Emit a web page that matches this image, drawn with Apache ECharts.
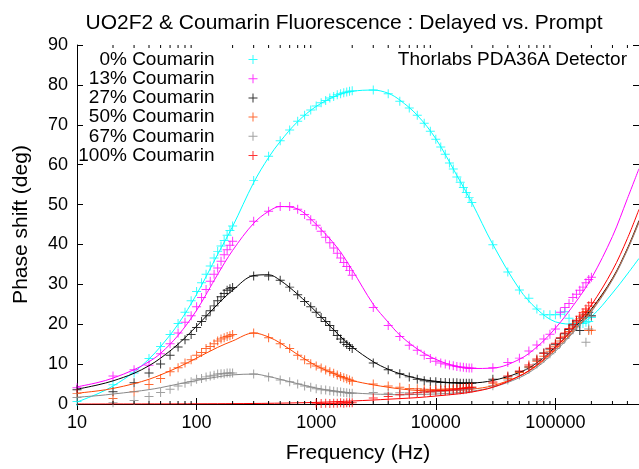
<!DOCTYPE html>
<html><head><meta charset="utf-8">
<script src="https://cdn.jsdelivr.net/npm/echarts@6/dist/echarts.min.js"></script>
<style>html,body{margin:0;padding:0;background:#fff}#c{width:639px;height:469px}</style>
</head><body><div id="c"></div>
<script>
// ---- measured frequencies (Hz) ----
const freq = [10,20,30,40,50,60,70,80,90,100,
  110,120,130,140,150,160,170,180,190,200,
  300,400,500,600,700,800,900,1000,
  1100,1200,1300,1400,1500,1600,1700,1800,1900,2000,
  3000,4000,5000,6000,7000,8000,9000,10000,
  11000,12000,13000,14000,15000,16000,17000,18000,19000,20000,
  30000,40000,50000,60000,70000,80000,90000,100000,
  110000,120000,130000,140000,150000,160000,170000,180000,190000,200000];

// ---- measured phase shift (deg) ----
const p0 = [0.6,4.8,7.8,11.4,14.4,17.4,20.2,23.0,25.9,28.2,
  30.4,32.5,34.6,36.6,38.2,39.6,41.0,42.3,43.5,44.6,
  56.0,62.1,66.0,68.7,70.9,72.4,73.7,74.7,
  75.5,76.1,76.7,77.1,77.5,77.8,78.0,78.2,78.4,78.5,
  78.7,77.8,75.9,74.2,72.4,70.4,68.4,66.4,
  64.4,62.6,60.4,58.9,56.9,55.6,54.3,53.0,51.8,50.5,
  39.9,33.1,28.6,26.5,23.8,22.4,22.4,22.4,
  22.5,23.1,21.5,20.2,20.0,20.2,20.2,20.5,20.7,21.7];
const p13 = [4.1,7.0,8.6,9.7,12.6,15.1,17.8,20.5,22.1,24.4,
  26.7,28.7,30.8,32.5,34.1,35.8,37.4,38.7,39.8,40.8,
  45.8,48.3,49.5,49.5,48.8,47.5,46.2,44.8,
  43.3,41.8,40.4,39.1,37.8,36.6,35.5,34.5,33.5,32.3,
  24.2,19.7,16.9,14.7,13.5,12.2,11.4,10.7,
  10.3,10.0,9.8,9.6,9.4,9.3,9.2,9.1,9.0,9.0,
  9.1,10.4,11.5,13.3,14.8,16.3,17.5,18.8,
  23.0,24.2,25.2,26.7,27.5,28.5,29.3,30.4,31.2,31.8];
const p27 = [3.6,3.1,5.3,7.8,10.0,12.2,14.3,16.1,17.4,19.2,
  20.7,22.1,23.4,24.6,25.9,26.9,27.7,28.5,28.9,29.2,
  32.1,32.1,31.0,29.3,27.4,25.7,24.4,23.0,
  21.7,20.7,19.7,18.4,17.2,16.3,15.5,14.9,14.4,13.9,
  10.3,8.6,7.6,6.8,6.2,5.8,5.6,5.6,
  5.4,5.4,5.3,5.3,5.3,5.2,5.2,5.2,5.2,5.2,
  6.2,6.8,8.1,9.3,11.0,12.8,13.8,15.0,
  16.5,17.6,18.7,19.8,20.8,18.4,21.6,22.4,23.0,22.1];
const p50 = [2.6,1.4,3.1,4.9,6.4,8.1,9.1,10.3,11.1,12.2,
  12.9,13.9,14.4,15.1,15.8,16.3,16.6,16.9,17.1,17.4,
  17.8,16.6,15.1,13.9,12.2,11.1,10.1,9.5,
  9.0,8.5,8.1,7.7,7.3,6.9,6.6,6.3,6.0,5.7,
  5.0,4.5,4.2,3.9,3.8,3.7,3.6,3.6,
  3.7,3.7,3.8,3.8,3.9,3.9,4.0,4.0,4.1,4.2,
  5.2,6.4,7.9,9.3,10.7,12.0,13.2,14.5,
  15.8,17.0,18.2,19.3,20.4,21.4,22.3,23.2,18.4,18.5];
const p67 = [1.6,0.3,0.9,1.9,2.9,3.7,4.5,5.2,5.6,6.2,
  6.4,6.8,7.0,7.2,7.5,7.6,7.6,7.8,7.8,7.8,
  7.5,6.8,6.0,5.6,5.0,4.5,4.2,3.8,
  3.6,3.5,3.3,3.2,3.1,3.0,2.9,2.8,2.7,2.7,
  2.9,2.7,2.8,2.8,2.9,3.0,3.0,3.1,
  3.2,3.3,3.3,3.4,3.5,3.5,3.6,3.7,3.8,3.9,
  4.6,6.0,7.3,8.7,10.0,11.4,12.6,13.9,
  15.2,16.4,17.6,18.7,19.7,20.8,21.7,15.5,18.8,22.0];
const p100 = [null,null,null,null,null,null,null,null,null,null,
  null,null,null,null,null,null,null,null,null,null,
  null,null,null,null,null,null,null,0.2,
  0.1,0.2,0.1,0.2,0.2,0.3,0.2,0.3,0.3,0.3,
  1.5,1.9,2.3,2.5,2.8,3.0,3.1,3.3,
  3.3,3.4,3.5,3.6,3.7,3.8,3.9,4.0,4.1,4.2,
  5.5,7.0,8.3,9.8,11.3,12.7,14.0,15.2,
  16.6,17.8,18.9,20.0,21.0,22.0,22.9,23.8,24.6,25.4];

// ---- fitted curves ----
const fitFreq = [10,15,20,30,40,50,70,100,150,200,300,400,500,700,1000,1500,2000,3000,4000,5000,7000,10000,15000,20000,30000,50000,70000,100000,150000,200000,300000,400000,500000];
const fit0 = [0.5,2.6,4.5,8.0,11.3,14.4,20.0,27.5,37.5,44.5,55.5,61.8,65.8,70.8,74.6,77.4,78.4,78.7,77.9,76.2,72.4,66.5,57.3,50.5,40.0,28.8,23.8,20.6,20.0,21.9,27.8,32.6,36.5];
const fit13 = [4.3,5.4,6.5,8.6,10.6,12.7,17.2,23.5,32.5,38.5,45.3,48.3,49.5,48.9,45.0,39.2,33.6,25.0,20.5,17.3,13.8,11.2,9.4,8.9,9.0,11.2,14.3,19.0,25.8,31.5,42.0,51.5,59.0];
const fit27 = [3.7,4.8,5.8,7.7,9.6,11.5,15.0,19.5,25.0,28.5,32.2,32.4,31.0,27.5,23.1,17.7,14.3,10.6,8.7,7.6,6.4,5.7,5.3,5.3,5.9,7.9,10.3,14.3,19.6,23.8,31.5,39.0,46.0];
const fit50 = [2.7,3.3,3.9,5.1,6.2,7.3,9.2,11.5,14.2,15.8,17.8,16.8,15.3,12.4,9.6,7.3,5.9,4.8,4.2,3.8,3.4,3.3,3.4,3.7,4.6,7.0,9.6,13.6,19.1,23.4,31.3,38.8,45.7];
const fit67 = [1.7,2.1,2.5,3.1,3.6,4.1,5.0,5.9,6.8,7.3,7.5,6.9,6.2,5.1,4.0,3.2,2.8,2.5,2.4,2.3,2.4,2.5,2.8,3.2,4.2,6.6,9.2,13.2,18.8,23.1,31.1,38.6,45.5];
const fit100 = [0,0,0.01,0.01,0.02,0.02,0.03,0.05,0.07,0.09,0.13,0.17,0.21,0.29,0.4,0.6,0.75,1.0,1.2,1.35,1.6,2.0,2.5,3.0,4.2,7.0,9.8,14.0,20.0,24.8,33.5,41.5,48.8];

const names = ['0% Coumarin','13% Coumarin','27% Coumarin','50% Coumarin','67% Coumarin','100% Coumarin'];
const yTicks = [0,10,20,30,40,50,60,70,80,90];
const xMajorTicks = [10,100,1000,10000,100000];
const xMinorTicks = [20,30,40,50,60,70,80,90,200,300,400,500,600,700,800,900,
  2000,3000,4000,5000,6000,7000,8000,9000,20000,30000,40000,50000,60000,70000,80000,90000,
  200000,300000,400000];

const colors = ['#00ffff','#ff00ff','#000000','#ff4500','#888888','#ff0000'];
const pts = [p0,p13,p27,p50,p67,p100];
const fits = [fit0,fit13,fit27,fit50,fit67,fit100];
const FONT = 'Liberation Sans, Arial, Helvetica, sans-serif';
const plus = 'path://M0,4.45H10V5.55H0Z M4.45,0H5.55V10H4.45Z';

const series = [];
names.forEach((n,k)=>{
  series.push({
    name:n, type:'scatter', symbol:plus, symbolSize:9,
    itemStyle:{color:colors[k]}, z:2+k,
    data: freq.map((f,i)=>[f,pts[k][i]]).filter(d=>d[1]!==null)
  });
  series.push({
    name:'fit '+n, type:'line', smooth:0.35, showSymbol:false, symbol:'none',
    lineStyle:{color:colors[k], width:1}, z:2+k,
    data: fitFreq.map((f,i)=>[f,fits[k][i]])
  });
});
series.push({
  type:'custom', silent:true, z:10,
  data: xMinorTicks.map(v=>[v,0]),
  renderItem:(params, api)=>{
    const v = api.value(0);
    const b = api.coord([v,0]);
    const t = api.coord([v,90]);
    return {type:'group', children:[
      {type:'line', shape:{x1:b[0],y1:b[1],x2:b[0],y2:b[1]-3}, style:{stroke:'#000',lineWidth:1}},
      {type:'line', shape:{x1:t[0],y1:t[1],x2:t[0],y2:t[1]+3}, style:{stroke:'#000',lineWidth:1}}
    ]};
  }
});

const legendCenters = [60,79.2,98.4,117.6,136.8,156];
const legends = names.map((n,k)=>({
  data:[{name:n, icon:plus}], orient:'vertical', align:'right',
  right: 639-257.5, top: legendCenters[k]-10, padding:0,
  itemWidth:9, itemHeight:9, selectedMode:false,
  textStyle:{fontFamily:FONT, fontSize:19, color:'#000', padding:[0,29,0,0]}
}));

const logAxisBase = {
  type:'log', logBase:10, min:10, max:500000, gridIndex:0,
  splitLine:{show:false},
  axisLine:{show:true, lineStyle:{color:'#000', width:1}},
  axisTick:{show:true, inside:true, length:6, lineStyle:{color:'#000'}},
};
const valAxisBase = {
  type:'value', min:0, max:90, interval:10,
  splitLine:{show:false},
  axisLine:{show:true, lineStyle:{color:'#000', width:1}},
  axisTick:{show:true, inside:true, length:6, lineStyle:{color:'#000'}},
};

const chart = echarts.init(document.getElementById('c'), null, {renderer:'canvas'});
chart.setOption({
  animation:false,
  backgroundColor:'#fff',
  grid:{left:77, top:45, right:-2, bottom:61},
  legend: legends,
  graphic:[
    {type:'text', x:344, y:23, style:{text:'UO2F2 & Coumarin Fluorescence : Delayed vs. Prompt', fill:'#000', font:'21px '+FONT, textAlign:'center', textVerticalAlign:'middle'}},
    {type:'text', x:627, y:60, style:{text:'Thorlabs PDA36A Detector', fill:'#000', font:'19px '+FONT, textAlign:'right', textVerticalAlign:'middle'}}
  ],
  xAxis:[
    Object.assign({}, logAxisBase, {position:'bottom',
      name:'Frequency (Hz)', nameLocation:'middle', nameGap:39,
      nameTextStyle:{fontFamily:FONT, fontSize:21, color:'#000'},
      axisLabel:{show:true, margin:10, fontFamily:FONT, fontSize:18, color:'#000', showMaxLabel:false,
        formatter:v=>{const r=Math.round(v); return xMajorTicks.indexOf(r)>=0? String(r):'';}}}),
    Object.assign({}, logAxisBase, {position:'top', axisLabel:{show:false}})
  ],
  yAxis:[
    Object.assign({}, valAxisBase, {position:'left',
      name:'Phase shift (deg)', nameLocation:'middle', nameGap:45,
      nameTextStyle:{fontFamily:FONT, fontSize:21, color:'#000'},
      axisLabel:{show:true, margin:9, fontFamily:FONT, fontSize:18, color:'#000',
        formatter:v=> yTicks.indexOf(v)>=0 ? String(v) : ''}}),
    Object.assign({}, valAxisBase, {position:'right', axisLabel:{show:false}})
  ],
  series: series
});
</script></body></html>
